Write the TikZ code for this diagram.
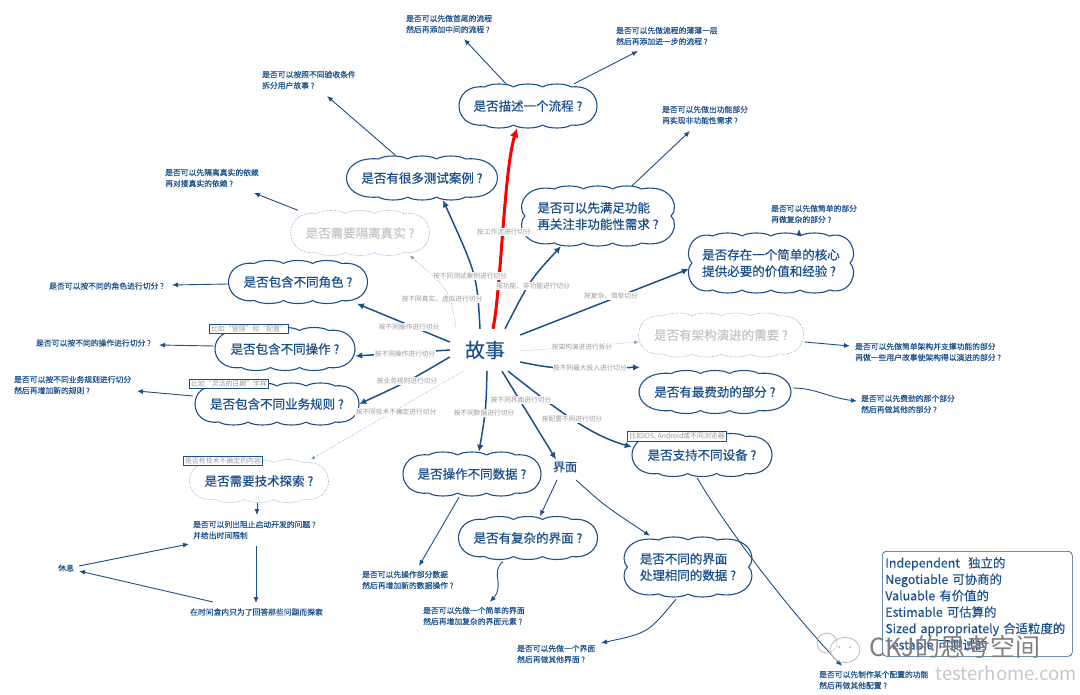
\documentclass[tikz,border=0pt]{standalone}
\usepackage{fontspec}
\setmainfont{Noto Sans CJK SC}
\newfontfamily\heavycjk[FakeBold=0.55]{Noto Sans CJK SC}
\newfontfamily\midcjk[FakeBold=0.2]{Noto Sans CJK SC}
\usetikzlibrary{arrows.meta}
\definecolor{storyblue}{HTML}{1B4F8A}
\definecolor{labelgray}{HTML}{9A9A9A}
\definecolor{faintgray}{HTML}{C4C4C4}
\tikzset{
  bubbleline/.style={draw=storyblue,line width=1.1pt,line join=round},
  bubblefaint/.style={draw=storyblue!60,line width=.6pt,densely dotted},
  bubbletext/.style={rectangle,inner sep=0pt,align=left,text=storyblue,font=\fontsize{12.5}{16.5}\selectfont\heavycjk},
  leaf/.style={rectangle,inner sep=0pt,anchor=west,align=left,text=storyblue,font=\fontsize{7.8}{11}\selectfont\midcjk},
  edgelabel/.style={rectangle,inner sep=.6pt,fill=white,text=labelgray,font=\fontsize{6.7}{8}\selectfont},
  notebox/.style={rectangle,draw=storyblue,line width=.8pt,fill=white,inner sep=1.4pt,text=labelgray,font=\fontsize{6.9}{8}\selectfont},
  branch/.style={draw=storyblue,line width=1.5pt,-{Latex[length=7pt,width=6.5pt]}},
  thinbranch/.style={draw=storyblue,line width=.9pt,-{Latex[length=6pt,width=5pt]}},
  faintbranch/.style={draw=storyblue!60,line width=.5pt,densely dotted,-{Latex[length=4pt,width=3.5pt]}}
}
% #1 line style, #2 name, #3 x, #4 y, #5 width, #6 height, #7 bumps on top, #8 lobes on the side, #9 text
\newcommand{\bubble}[9][bubbleline]{
  \node[bubbletext,minimum width=#5,minimum height=#6] (#2) at (#3,#4) {#9};
  \def\xa{(#3-#5/2)}\def\xb{(#3+#5/2)}\def\ya{(#4-#6/2)}\def\yb{(#4+#6/2)}
  \def\sx{29}\def\ca{((#5-#7*\sx)/2)}\def\dy{3}
  \ifnum#8=1
    \def\rightside{.. controls ({\xb+\ca/3},{\ya-1}) and ({\xb+\ca/3},{\yb+1}) .. ({\xb-\ca},{\yb-\dy})}
    \def\leftside{.. controls ({\xa-\ca/3},{\yb+1}) and ({\xa-\ca/3},{\ya-1}) .. ({\xa+\ca},{\ya+\dy})}
  \else
    \def\rightside{.. controls ({\xb-2},{\ya-3}) and ({\xb+6},{#4-8}) .. ({\xb-3},{#4}) .. controls ({\xb+6},{#4+8}) and ({\xb-2},{\yb+3}) .. ({\xb-\ca},{\yb-\dy})}
    \def\leftside{.. controls ({\xa+2},{\yb+3}) and ({\xa-6},{#4+8}) .. ({\xa+3},{#4}) .. controls ({\xa-6},{#4-8}) and ({\xa+2},{\ya-3}) .. ({\xa+\ca},{\ya+\dy})}
  \fi
  \draw[#1] ({\xa+\ca},{\ya+\dy})
    \foreach \i in {1,...,#7} {
      .. controls ({\xa+\ca+(\i-.8)*\sx},{\ya-\dy/3}) and ({\xa+\ca+(\i-.2)*\sx},{\ya-\dy/3}) .. ({\xa+\ca+\i*\sx},{\ya+\dy})
    }
    \rightside
    \foreach \i in {1,...,#7} {
      .. controls ({\xb-\ca-(\i-.8)*\sx},{\yb+\dy/3}) and ({\xb-\ca-(\i-.2)*\sx},{\yb+\dy/3}) .. ({\xb-\ca-\i*\sx},{\yb-\dy})
    }
    \leftside -- cycle;
}
\begin{document}
\begin{tikzpicture}[x=1pt,y=-1pt]
  \useasboundingbox (0,0) rectangle (1080,695);

  % the story in the middle
  \node[rectangle,inner sep=0pt,minimum width=70pt,minimum height=42pt,text=storyblue,font=\fontsize{20}{24}\selectfont\midcjk] (story) at (485,350) {故事};

  % questions
  \bubble{flow}{528}{106}{138}{44}{3}{1}{是否描述一个流程 ?}
  \bubble{cases}{422}{178}{151}{44}{3}{1}{是否有很多测试案例 ?}
  \bubble[bubblefaint]{real}{360}{233}{139}{45}{3}{1}{\textcolor{faintgray}{是否需要隔离真实 ?}}
  \bubble{roles}{298}{282}{139}{43}{3}{1}{是否包含不同角色 ?}
  \bubble{ops}{285}{349}{140}{43}{3}{1}{是否包含不同操作 ?}
  \bubble{rules}{277}{404}{164}{42}{4}{1}{是否包含不同业务规则 ?}
  \bubble[bubblefaint]{tech}{259}{481}{139}{43}{3}{1}{是否需要技术探索 ?}
  \bubble{data}{472}{474}{138}{44}{3}{1}{是否操作不同数据 ?}
  \bubble{complex}{528}{538}{139}{43}{3}{1}{是否有复杂的界面 ?}
  \bubble{differ}{688}{567}{127}{60}{2}{2}{是否不同的界面\\处理相同的数据 ?}
  \bubble{device}{702}{455}{140}{43}{3}{1}{是否支持不同设备 ?}
  \bubble{effort}{715}{392}{152}{43}{3}{1}{是否有最费劲的部分 ?}
  \bubble[bubblefaint]{arch}{721}{335}{165}{44}{4}{1}{\textcolor{faintgray}{是否有架构演进的需要 ?}}
  \bubble{core}{771}{263}{164}{60}{4}{2}{是否存在一个简单的核心\\提供必要的价值和经验 ?}
  \bubble{func}{598}{216}{152}{60}{3}{2}{是否可以先满足功能\\再关注非功能性需求 ?}
  \node[rectangle,inner sep=2pt,text=storyblue,font=\fontsize{12}{14}\selectfont\heavycjk] (ui) at (565,467) {界面};

  % answers
  \node[leaf] (flowA) at (406,24) {是否可以先做首尾的流程\\然后再添加中间的流程 ?};
  \node[leaf] (flowB) at (616,36) {是否可以先做流程的薄薄一层\\然后再添加进一步的流程 ?};
  \node[leaf] (casesA) at (262,80) {是否可以按照不同验收条件\\拆分用户故事 ?};
  \node[leaf] (realA) at (165,178) {是否可以先隔离真实的依赖\\再对接真实的依赖 ?};
  \node[leaf] (funcA) at (662,115) {是否可以先做出功能部分\\再实现非功能性需求 ?};
  \node[leaf] (coreA) at (771,214) {是否可以先做简单的部分\\再做复杂的部分 ?};
  \node[leaf] (rolesA) at (49,286) {是否可以按不同的角色进行切分 ?};
  \node[leaf] (opsA) at (36,343) {是否可以按不同的操作进行切分 ?};
  \node[leaf] (rulesA) at (14,385) {是否可以按不同业务规则进行切分\\然后再增加新的规则 ?};
  \node[leaf] (techA) at (193,530) {是否可以列出阻止启动开发的问题 ?\\并给出时间限制};
  \node[leaf] (rest) at (58,568) {休息};
  \node[leaf] (timebox) at (190,612) {在时间盒内只为了回答那些问题而探索};
  \node[leaf] (dataA) at (362,580) {是否可以先操作部分数据\\然后再增加新的数据操作 ?};
  \node[leaf] (complexA) at (423,616) {是否可以先做一个简单的界面\\然后再增加复杂的界面元素 ?};
  \node[leaf] (differA) at (517,654) {是否可以先做一个界面\\然后再做其他界面 ?};
  \node[leaf] (deviceA) at (819,680) {是否可以先制作某个配置的功能\\然后再做其他配置 ?};
  \node[leaf] (effortA) at (861,404) {是否可以先费劲的那个部分\\然后再做其他的部分 ?};
  \node[leaf] (archA) at (855,352) {是否可以先做简单架构并支撑功能的部分\\再做一些用户故事使架构得以演进的部分 ?};

  % branches from the story
  \draw[branch] ([xshift=-5]story.north) .. controls (477,275) .. ([xshift=21]cases.south);
  \draw[branch,draw=red,line width=3pt,-{Latex[length=9pt,width=9pt]}] ([xshift=8]story.north) .. controls (501,290) and (504,170) .. ([xshift=-11]flow.south);
  \draw[branch] ([xshift=20]story.north) .. controls (530,280) .. ([xshift=-37]func.south);
  \draw[branch] ([yshift=15]story.east) -- ([yshift=-6]core.west);
  \draw[faintbranch] ([yshift=-1]story.east) -- ([yshift=-7]arch.west);
  \draw[branch] ([yshift=-12]story.east) .. controls (555,369) .. ([xshift=-75,yshift=3]effort.north);
  \draw[branch] ([xshift=23]story.south) .. controls (560,412) and (590,435) .. ([yshift=8]device.west);
  \draw[branch] ([xshift=17]story.south) -- ([xshift=-9]ui.north);
  \draw[branch] ([xshift=2]story.south) .. controls (486,410) .. ([xshift=7]data.north);
  \draw[faintbranch] ([xshift=-22]story.south) -- ([xshift=52]tech.north);
  \draw[branch] ([yshift=-7]story.west) .. controls (409,381) .. (rules.east);
  \draw[branch] (story.west) -- ([yshift=-7]ops.east);
  \draw[branch] ([yshift=8]story.west) -- ([xshift=59]roles.south);
  \draw[faintbranch] ([xshift=-29]story.north) .. controls (450,290) .. ([xshift=50]real.south);

  % leaves of the branches
  \draw[thinbranch] ([xshift=-22]flow.north) -- ([xshift=58,yshift=-15]flowA.west);
  \draw[thinbranch] ([xshift=46]flow.north) -- ([xshift=22,yshift=-15]flowB.west);
  \draw[thinbranch] ([xshift=-26]cases.north) -- ([xshift=65,yshift=-16]casesA.west);
  \draw[thinbranch] ([xshift=-62]real.north) -- ([xshift=89,yshift=-15]realA.west);
  \draw[thinbranch] ([xshift=34]func.north) -- ([xshift=28,yshift=-16]funcA.west);
  \draw[thinbranch] ([xshift=28]core.north) -- ([xshift=28,yshift=-15]coreA.west);
  \draw[thinbranch] ([yshift=-2]roles.west) -- ([xshift=123,yshift=1]rolesA.west);
  \draw[thinbranch] ([xshift=-1,yshift=3]ops.west) -- ([xshift=123,yshift=-2]opsA.west);
  \draw[thinbranch] ([xshift=-2,yshift=8]rules.west) -- ([xshift=123,yshift=-6]rulesA.west);
  \draw[thinbranch] ([xshift=-2]tech.south) -- ([xshift=64,yshift=15]techA.west);
  \draw[thinbranch] ([xshift=63,yshift=-16]techA.west) -- ([xshift=66,yshift=9]timebox.west);
  \draw[thinbranch] ([xshift=21,yshift=2]rest.west) -- ([xshift=-4,yshift=-14]techA.west);
  \draw[thinbranch] ([xshift=23,yshift=10]timebox.west) -- ([xshift=21,yshift=-3]rest.west);
  \draw[thinbranch] ([xshift=-13,yshift=-1]data.south) -- ([xshift=57,yshift=14]dataA.west);
  \draw[thinbranch] ([xshift=-25,yshift=-2]complex.south) .. controls (490,572) and (505,585) .. ([xshift=67,yshift=14]complexA.west);
  \draw[thinbranch] ([xshift=-8,yshift=-13]ui.center) -- ([xshift=12]complex.north);
  \draw[thinbranch] ([xshift=11,yshift=-13]ui.center) .. controls (605,506) .. ([xshift=-38,yshift=1]differ.north);
  \draw[thinbranch] ([xshift=-12,yshift=-2]differ.south) .. controls (648,633) .. ([xshift=84,yshift=11]differA.west);
  \draw[thinbranch] ([xshift=-5,yshift=-1]device.south) .. controls (725,525) and (780,600) .. ([xshift=23,yshift=14]deviceA.west);
  \draw[thinbranch] ([xshift=2,yshift=4]effort.east) .. controls (815,388) and (830,398) .. ([xshift=-4,yshift=3]effortA.west);
  \draw[thinbranch] ([xshift=1,yshift=-7]arch.east) -- ([xshift=-5,yshift=6]archA.west);

  % labels on the branches
  \node[edgelabel] (labFlow) at (504,232) {按工作流进行切分};
  \node[edgelabel] (labCases) at (470,276) {按不同测试案例进行切分};
  \node[edgelabel] (labFunc) at (533,286) {按功能、非功能进行切分};
  \node[edgelabel] (labReal) at (442,299) {按不同真实、虚拟进行切分};
  \node[edgelabel] (labRoles) at (409,327) {按不同操作进行切分};
  \node[edgelabel] (labOps) at (405,354) {按不同操作进行切分};
  \node[edgelabel] (labRules) at (407,381) {按业务规则进行切分};
  \node[edgelabel] (labTech) at (396,412) {按不同技术不确定进行切分};
  \node[edgelabel] (labData) at (484,413) {按不同数据进行切分};
  \node[edgelabel] (labUi) at (521,400) {按不同界面进行切分};
  \node[edgelabel] (labDevice) at (572,419) {按配置不同进行切分};
  \node[edgelabel] (labEffort) at (590,368) {按不同最大投入进行切分};
  \node[edgelabel] (labArch) at (582,347) {按架构演进进行拆分};
  \node[edgelabel] (labCore) at (611,296) {按复杂、简单切分};

  % small notes on the bubbles
  \node[notebox] (noteOps) at (249,329) {比如“管理”和“配置”};
  \node[notebox] (noteRules) at (229,384) {比如“灵活的日期”字样};
  \node[notebox] (noteTech) at (223,461) {是否有技术不确定的内容};
  \node[notebox] (noteDevice) at (677,436) {比如iOS, Android或不同浏览器};

  \node[rectangle,draw=storyblue,rounded corners=4pt,line width=.6pt,anchor=north west,inner xsep=3pt,inner ysep=3pt,text width=184pt,minimum height=105pt,align=left,text=storyblue,font=\fontsize{12.4}{16.4}\selectfont\midcjk] (invest) at (882,551)
    {Independent\ \ 独立的\\Negotiable 可协商的\\Valuable 有价值的\\Estimable 可估算的\\Sized appropriately 合适粒度的\\Testable 可测试的};

  % marks over the corner
  \draw[black!30,line width=.7pt] (827,643) ellipse [x radius=10,y radius=10];
  \draw[black!30,line width=.7pt,fill=white,fill opacity=.5] (845,650) ellipse [x radius=15,y radius=12.5];
  \fill[black!30] (839,647) circle [radius=1] (850,647) circle [radius=1];
  \node[text=black!50,font=\fontsize{25}{28}\selectfont,anchor=west] (markA) at (866,647) {CKJ的思考空间};
  \node[text=black!22,font=\fontsize{18.5}{20}\selectfont,anchor=west] (markB) at (932,673) {testerhome.com};
\end{tikzpicture}
\end{document}
